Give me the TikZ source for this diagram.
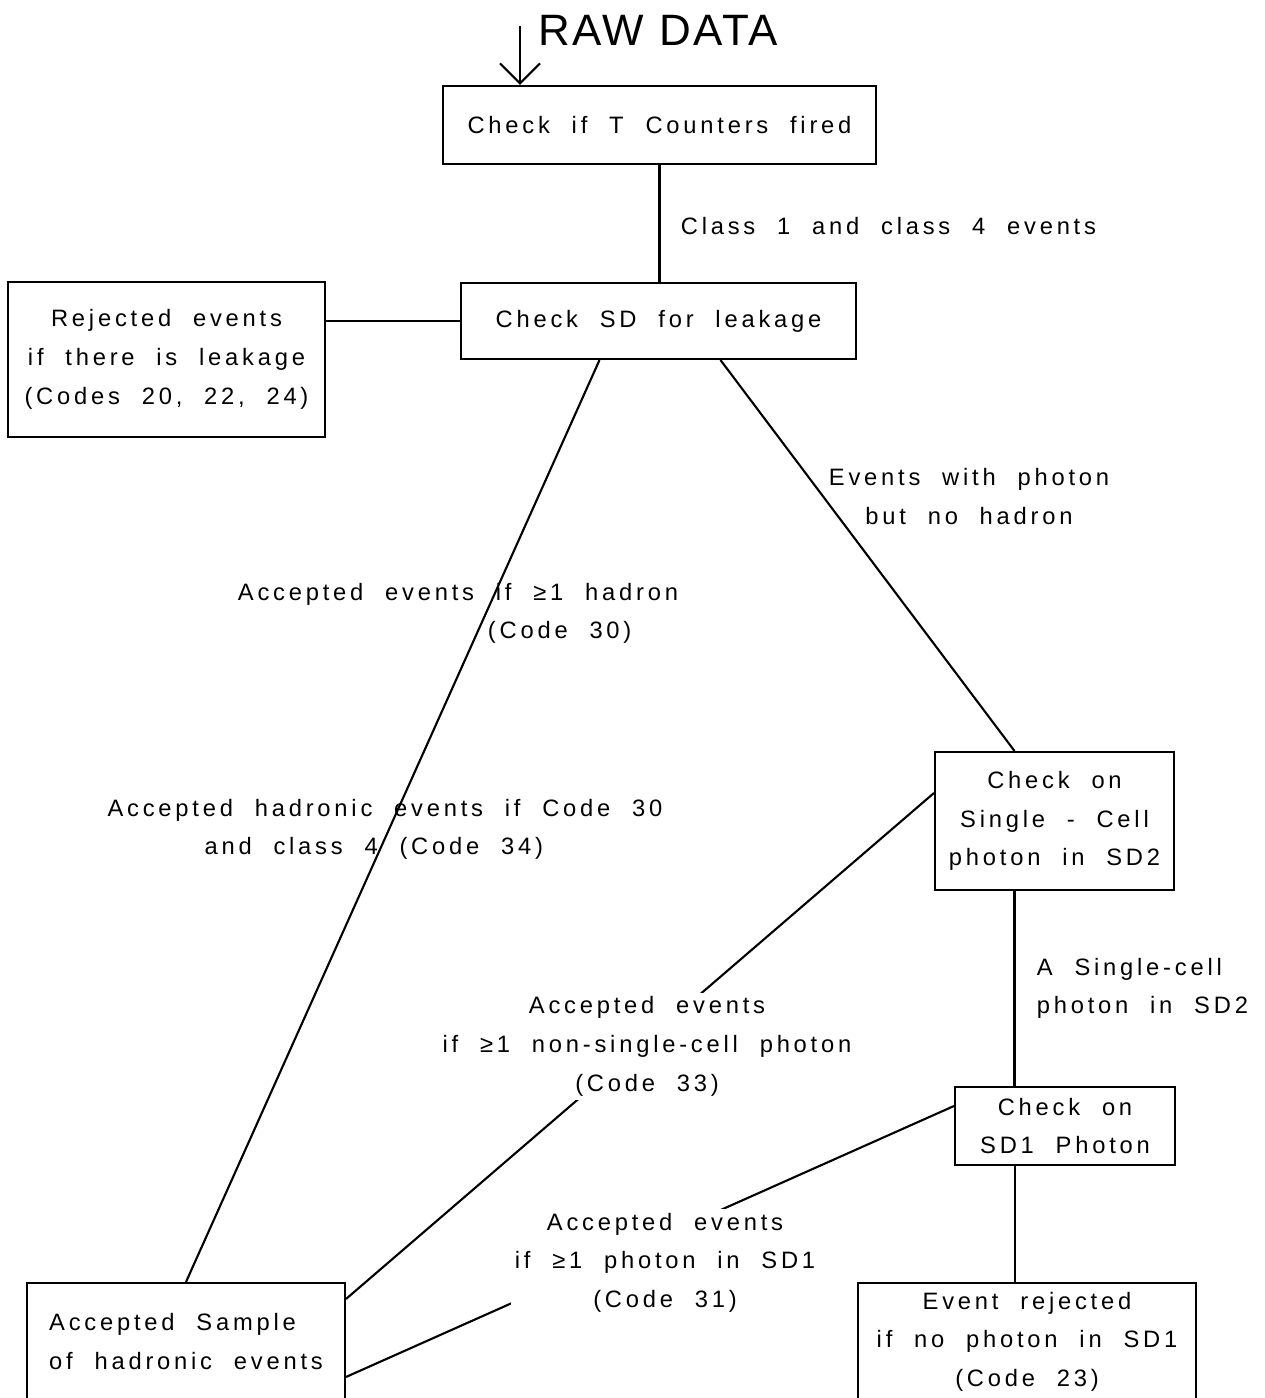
\documentclass[tikz,border=0pt]{standalone}
\usepackage{fontspec}
\setmainfont[LetterSpace=16,WordSpace=2.1]{Liberation Sans}
\newfontfamily\titlefont[LetterSpace=6]{Liberation Sans}
\usetikzlibrary{arrows.meta,positioning,calc}

\begin{document}
\begin{tikzpicture}[
      x=0.02cm, y=-0.02cm,
      box/.style={draw,line width=1.2pt,inner sep=0pt,align=center,
                  font=\fontsize{13.5}{22}\selectfont},
      lbl/.style={inner sep=2pt,align=center,font=\fontsize{13.5}{22}\selectfont},
      wlbl/.style={lbl,fill=white},
      link/.style={line width=1.2pt},
      arr/.style={link,-{Straight Barb[length=0.4cm,width=0.8cm]}},
    ]
    \useasboundingbox (0,0) rectangle (1264,1398);

    % boxes
    \node[box,minimum width=8.66cm,minimum height=1.56cm] (tcnt) at (659.5,125)
          {Check if T Counters fired};
    \node[box,minimum width=7.9cm,minimum height=1.52cm] (sd) at (658.5,321)
          {Check SD for leakage};
    \node[box,minimum width=6.34cm,minimum height=3.1cm] (rej) at (166.5,359.5)
          {Rejected events\\if there is leakage\\(Codes 20, 22, 24)};
    \node[box,minimum width=4.78cm,minimum height=2.76cm] (scell) at (1054.5,821)
          {Check on\\Single - Cell\\photon in SD2};
    \node[box,minimum width=4.4cm,minimum height=1.56cm] (sdone) at (1065,1126)
          {Check on\\SD1 Photon};
    \node[box,minimum width=6.36cm,minimum height=2.34cm,align=left] (acc)
          at (186,1341.5) {Accepted Sample\\of hadronic events};
    \node[box,minimum width=6.76cm,minimum height=2.34cm] (evrej) at (1027,1341.5)
          {Event rejected\\if no photon in SD1\\(Code 23)};

    % input
    \node[font=\titlefont\fontsize{25}{30}\selectfont,anchor=west,inner sep=0pt]
          (raw) at (538,30) {RAW DATA};
    \coordinate (rawin) at (520,26);
    \draw[arr] (rawin) -- (rawin |- tcnt.north);

    % connectors
    \coordinate (scdown) at ($(scell.south)+(-40,0)$);
    \coordinate (sdonedown) at ($(sdone.south)+(-50,0)$);
    \draw[link] (tcnt.south) -- (tcnt.south |- sd.north);
    \draw[link] (sd.west) -- (sd.west -| rej.east);
    \draw[link] ($(sd.south)+(-59,0)$) -- (acc.north);
    \draw[link] ($(sd.south)+(62,0)$) -- ($(scell.north)+(-40,0)$);
    \draw[link] (scdown) -- (scdown |- sdone.north);
    \draw[link] (sdonedown) -- (sdonedown |- evrej.north);
    \draw[link] ($(scell.west)+(0,-28)$) -- ($(acc.north east)+(0,17)$);
    \draw[link] ($(sdone.west)+(0,-20)$) -- ($(acc.north east)+(0,95)$);

    % labels
    \node[lbl,anchor=west] (lclass) at (677,226) {Class 1 and class 4 events};
    \node[lbl] (lphot) at (969,496.5) {Events with photon\\but no hadron};
    \node[lbl,align=left] (lhad) at (458,613.5)
          {Accepted events if ≥1 hadron\\\hspace*{5.0cm}(Code 30)};
    \node[lbl,align=left] (lhadr) at (385,829.5)
          {Accepted hadronic events if Code 30\\\hspace*{1.94cm}and class 4 (Code 34)};
    \node[lbl,align=left,anchor=west] (lsingle) at (1033,988.5)
          {A Single-cell\\photon in SD2};
    \node[wlbl] (lnonsc) at (647,1046.5)
          {Accepted events\\if ≥1 non-single-cell photon\\(Code 33)};
    \node[wlbl] (lsdone) at (665,1262.5)
          {Accepted events\\if ≥1 photon in SD1\\(Code 31)};
  \end{tikzpicture}
\end{document}
